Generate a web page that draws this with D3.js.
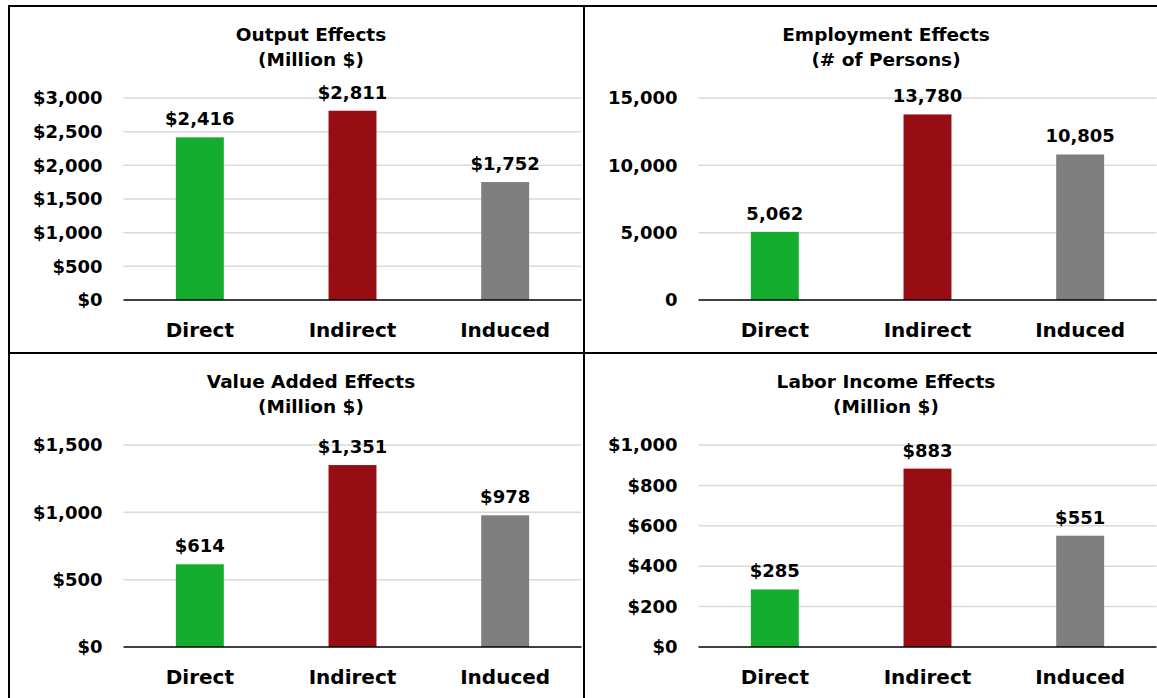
<!DOCTYPE html>
<html>
<head>
<meta charset="utf-8">
<script src="https://cdn.jsdelivr.net/npm/d3@7/dist/d3.min.js"></script>
<style>
  html, body { margin: 0; padding: 0; background: #fff; }
  svg { display: block; }
  text { font-family: "DejaVu Sans", sans-serif; font-weight: bold; fill: #000; }
</style>
</head>
<body>
<svg id="chart" width="1157" height="698"></svg>
<script>
// Economic impact breakdown by effect type
const categories = ["Direct", "Indirect", "Induced"];

const outputValues = [2416, 2811, 1752];        // Million $
const employmentValues = [5062, 13780, 10805];  // # of persons
const valueAddedValues = [614, 1351, 978];      // Million $
const laborIncomeValues = [285, 883, 551];      // Million $

const outputTicks = [0, 500, 1000, 1500, 2000, 2500, 3000];
const employmentTicks = [0, 5000, 10000, 15000];
const valueAddedTicks = [0, 500, 1000, 1500];
const laborIncomeTicks = [0, 200, 400, 600, 800, 1000];

const barColors = ["#15ad2d", "#960e14", "#7f7f7f"];

const dollar = d => "$" + d3.format(",")(d);
const plain = d => d3.format(",")(d);

const panels = [
  { title: ["Output Effects", "(Million $)"], values: outputValues, ticks: outputTicks, fmt: dollar, col: 0, row: 0 },
  { title: ["Employment Effects", "(# of Persons)"], values: employmentValues, ticks: employmentTicks, fmt: plain, col: 1, row: 0 },
  { title: ["Value Added Effects", "(Million $)"], values: valueAddedValues, ticks: valueAddedTicks, fmt: dollar, col: 0, row: 1 },
  { title: ["Labor Income Effects", "(Million $)"], values: laborIncomeValues, ticks: laborIncomeTicks, fmt: dollar, col: 1, row: 1 }
];

const svg = d3.select("#chart");
const W = 1157, H = 698;

// Panel frame geometry
const colX = [9, 584];
const rowY = [6, 353];
const plotOffsetX = 114.5;   // panel left edge -> plot left
const plotWidth = 458;
const axisOffsetY = 294;     // panel top edge -> baseline (zero line)
const plotHeight = 202;

panels.forEach(p => {
  const px = colX[p.col], py = rowY[p.row];
  const g = svg.append("g");

  const x0 = px + plotOffsetX;
  const yBase = py + axisOffsetY;

  const x = d3.scaleBand()
    .domain(categories)
    .range([x0, x0 + plotWidth])
    .paddingInner(0.686)
    .paddingOuter(0.343);

  const yMax = p.ticks[p.ticks.length - 1];
  const y = d3.scaleLinear().domain([0, yMax]).range([yBase, yBase - plotHeight]);

  // gridlines
  g.append("g").selectAll("line")
    .data(p.ticks.filter(t => t > 0))
    .join("line")
    .attr("x1", x0).attr("x2", x0 + plotWidth)
    .attr("y1", d => y(d)).attr("y2", d => y(d))
    .attr("stroke", "#d9d9d9").attr("stroke-width", 1.5);

  // y axis labels
  const yAxis = d3.axisLeft(y).tickValues(p.ticks).tickFormat(p.fmt).tickSize(0).tickPadding(21);
  const ya = g.append("g").attr("transform", `translate(${x0},0)`).call(yAxis);
  ya.select(".domain").remove();
  ya.selectAll("text").attr("font-size", 18).attr("font-family", null).attr("fill", "#000");

  // bars
  g.append("g").selectAll("rect")
    .data(p.values)
    .join("rect")
    .attr("x", (d, i) => x(categories[i]))
    .attr("width", x.bandwidth())
    .attr("y", d => y(d))
    .attr("height", d => yBase - y(d))
    .attr("fill", (d, i) => barColors[i]);

  // value labels
  g.append("g").selectAll("text")
    .data(p.values)
    .join("text")
    .attr("x", (d, i) => x(categories[i]) + x.bandwidth() / 2)
    .attr("y", d => y(d) - 12)
    .attr("text-anchor", "middle")
    .attr("font-size", 18)
    .text(d => p.fmt(d));

  // category axis
  const xAxis = d3.axisBottom(x).tickSize(0).tickPadding(0);
  const xa = g.append("g").attr("transform", `translate(0,${yBase})`).call(xAxis);
  xa.select(".domain").remove();
  xa.selectAll("text")
    .attr("font-size", 20).attr("font-family", null).attr("fill", "#000")
    .attr("dy", null).attr("y", 37);

  // zero line
  g.append("line")
    .attr("x1", x0).attr("x2", x0 + plotWidth)
    .attr("y1", yBase).attr("y2", yBase)
    .attr("stroke", "#000").attr("stroke-width", 1.5);

  // title
  const t = g.append("text")
    .attr("x", px + 302)
    .attr("y", py + 35)
    .attr("text-anchor", "middle")
    .attr("font-size", 18.5);
  t.append("tspan").attr("x", px + 302).text(p.title[0]);
  t.append("tspan").attr("x", px + 302).attr("dy", 25).text(p.title[1]);
});

// panel frame lines
const frame = svg.append("g").attr("stroke", "#000").attr("stroke-width", 2);
frame.append("line").attr("x1", colX[0]).attr("x2", W).attr("y1", rowY[0]).attr("y2", rowY[0]);
frame.append("line").attr("x1", colX[0]).attr("x2", colX[0]).attr("y1", rowY[0] - 1).attr("y2", H);
frame.append("line").attr("x1", colX[1]).attr("x2", colX[1]).attr("y1", rowY[0] - 1).attr("y2", H);
frame.append("line").attr("x1", colX[0]).attr("x2", W).attr("y1", rowY[1]).attr("y2", rowY[1]);
</script>
</body>
</html>
